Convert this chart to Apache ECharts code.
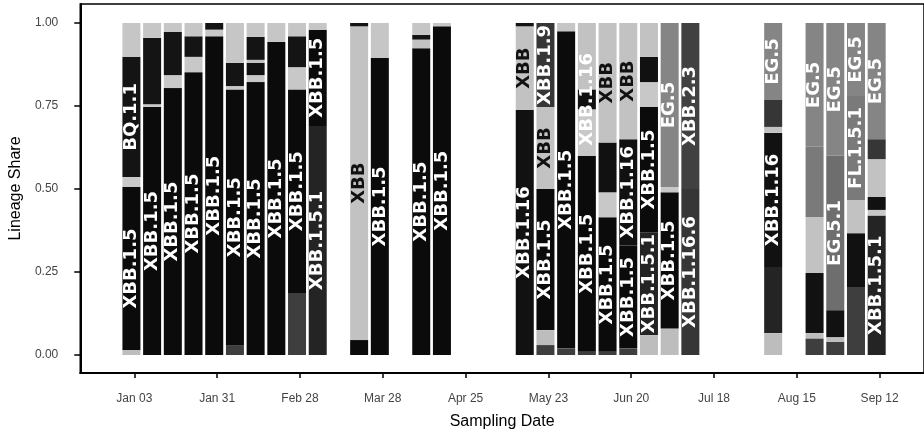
<!DOCTYPE html>
<html>
<head>
<meta charset="utf-8">
<script src="https://cdn.jsdelivr.net/npm/echarts@6/dist/echarts.min.js"></script>
<style>
  html, body { margin: 0; padding: 0; background: #fff; }
  #chart { width: 924px; height: 438px; }
</style>
</head>
<body>
<div id="chart"></div>
<script>
// Weekly sampling dates (Mondays, 2023)
const sampleDates = [
  '2023-01-02', '2023-01-09', '2023-01-16', '2023-01-23', '2023-01-30',
  '2023-02-06', '2023-02-13', '2023-02-20', '2023-02-27', '2023-03-06',
  '2023-03-20', '2023-03-27', '2023-04-10', '2023-04-17',
  '2023-05-15', '2023-05-22', '2023-05-29', '2023-06-05', '2023-06-12',
  '2023-06-19', '2023-06-26', '2023-07-03', '2023-07-10',
  '2023-08-07', '2023-08-21', '2023-08-28', '2023-09-04', '2023-09-11'
];

// Tick dates on the x axis
const tickDates = [
  '2023-01-03', '2023-01-31', '2023-02-28', '2023-03-28', '2023-04-25',
  '2023-05-23', '2023-06-20', '2023-07-18', '2023-08-15', '2023-09-12'
];
const yTicks = [0, 0.25, 0.5, 0.75, 1];

// Lineage shares per sampling date, listed in stacking order (bottom to top)
const otherA    = [0, 0, 0, 0, 0, .03, 0, 0, .187, 0, 0, 0, 0, 0, 0, .03, .02, .01, .01, .02, 0, 0, 0, 0, .05, .04, .205, 0];
const otherB    = [.015, 0, 0, 0, 0, 0, 0, 0, 0, 0, 0, 0, 0, 0, 0, .045, 0, 0, 0, 0, .06, .08, 0, .066, .016, .014, 0, 0];
const xbb151    = [0, 0, 0, 0, 0, 0, 0, 0, 0, .69, 0, 0, 0, 0, 0, 0, 0, 0, 0, 0, .31, 0, 0, .199, 0, 0, 0, .42];
const xbb15     = [.491, .747, .804, .852, .96, .77, .822, .943, .613, .29, .045, .895, .924, .99, 0, .425, .955, .59, .405, .31, .377, .41, 0, 0, 0, 0, 0, 0];
const otherC    = [.03, .008, .039, .046, .02, .01, .021, 0, .067, 0, 0, 0, 0, 0, 0, 0, 0, .14, .075, 0, .075, .016, 0, 0, 0, 0, 0, .017];
const xbb116    = [0, 0, 0, 0, 0, 0, .037, 0, 0, 0, 0, 0, 0, 0, .738, 0, 0, .06, .15, .32, .076, 0, 0, .404, .181, .081, .162, .039];
const xbb       = [0, 0, 0, 0, 0, 0, .009, 0, 0, 0, .945, 0, .026, 0, .252, .247, 0, .20, .36, .35, .102, 0, 0, .018, .169, 0, .10, .114];
const xbb19     = [0, 0, 0, 0, 0, 0, 0, 0, 0, 0, 0, 0, 0, 0, 0, .253, 0, 0, 0, 0, 0, 0, 0, .081, 0, 0, 0, .06];
const bq11      = [.362, .20, .13, .062, .02, .07, .069, 0, .093, 0, .01, 0, .014, 0, .01, 0, 0, 0, 0, 0, 0, 0, 0, 0, 0, 0, 0, 0];
const xbb1166   = [0, 0, 0, 0, 0, 0, 0, 0, 0, 0, 0, 0, 0, 0, 0, 0, 0, 0, 0, 0, 0, 0, .5, 0, 0, 0, 0, 0];
const xbb23     = [0, 0, 0, 0, 0, 0, 0, 0, 0, 0, 0, 0, 0, 0, 0, 0, 0, 0, 0, 0, 0, 0, .5, 0, 0, 0, 0, 0];
const eg51      = [0, 0, 0, 0, 0, 0, 0, 0, 0, 0, 0, 0, 0, 0, 0, 0, 0, 0, 0, 0, 0, 0, 0, 0, 0, .465, 0, 0];
const fl151     = [0, 0, 0, 0, 0, 0, 0, 0, 0, 0, 0, 0, 0, 0, 0, 0, 0, 0, 0, 0, 0, 0, 0, 0, .211, 0, .313, 0];
const otherD    = [.102, .045, .027, .04, 0, .12, .042, .057, .04, .02, 0, .105, .036, .01, 0, 0, .025, 0, 0, 0, 0, 0, 0, 0, 0, 0, 0, 0];
const eg5       = [0, 0, 0, 0, 0, 0, 0, 0, 0, 0, 0, 0, 0, 0, 0, 0, 0, 0, 0, 0, 0, .494, 0, .232, .373, .40, .22, .35];

const lineages = [
  { name: 'Other (a)',  values: otherA },
  { name: 'Other (b)',  values: otherB },
  { name: 'XBB.1.5.1',  values: xbb151 },
  { name: 'XBB.1.5',    values: xbb15 },
  { name: 'Other (c)',  values: otherC },
  { name: 'XBB.1.16',   values: xbb116 },
  { name: 'XBB',        values: xbb },
  { name: 'XBB.1.9',    values: xbb19 },
  { name: 'BQ.1.1',     values: bq11 },
  { name: 'XBB.1.16.6', values: xbb1166 },
  { name: 'XBB.2.3',    values: xbb23 },
  { name: 'EG.5.1',     values: eg51 },
  { name: 'FL.1.5.1',   values: fl151 },
  { name: 'Other (d)',  values: otherD },
  { name: 'EG.5',       values: eg5 }
];

// Small segments that still carry a name label
const extraLabels = [['2023-06-05', 'XBB.1.16']];

// Greyscale fill for each lineage, and the matching label colour
const fills = {
  'Other (a)': '#3e3e3e', 'Other (b)': '#bdbdbd', 'XBB.1.5.1': '#242424',
  'XBB.1.5': '#0b0b0b', 'Other (c)': '#c8c8c8', 'XBB.1.16': '#111111',
  'XBB': '#c2c2c2', 'XBB.1.9': '#363636', 'BQ.1.1': '#141414',
  'XBB.1.16.6': '#363636', 'XBB.2.3': '#414141', 'EG.5.1': '#6e6e6e',
  'FL.1.5.1': '#7a7a7a', 'Other (d)': '#c6c6c6', 'EG.5': '#858585'
};
const lightFills = new Set(['Other (b)', 'Other (c)', 'XBB', 'Other (d)']);

const DAY = 86400000;
const origin = Date.UTC(2023, 0, 3);
function dayOffset(s) {
  const [y, m, d] = s.split('-').map(Number);
  return (Date.UTC(y, m - 1, d) - origin) / DAY;
}
const MONTHS = ['Jan', 'Feb', 'Mar', 'Apr', 'May', 'Jun', 'Jul', 'Aug', 'Sep', 'Oct', 'Nov', 'Dec'];
function dateLabel(v) {
  const dt = new Date(origin + Math.round(v) * DAY);
  return MONTHS[dt.getUTCMonth()] + ' ' + String(dt.getUTCDate()).padStart(2, '0');
}

const xs = sampleDates.map(dayOffset);
const LABEL_MIN = 0.215;

// Each datum is [share, day]; the share column comes first so it is the stacked one.
const series = lineages.map(l => {
  const minor = l.name.startsWith('Other');
  return {
    name: l.name,
    type: 'bar',
    stack: 'share',
    barWidth: 18,
    encode: { x: 1, y: 0 },
    itemStyle: { color: fills[l.name] },
    label: {
      show: false,
      position: 'inside',
      rotate: 90,
      formatter: l.name,
      fontFamily: 'DejaVu Sans',
      fontWeight: 'bold',
      fontSize: 18,
      color: lightFills.has(l.name) ? '#111' : '#fff'
    },
    data: l.values.map((v, i) => {
      const forced = extraLabels.some(e => e[0] === sampleDates[i] && e[1] === l.name);
      return {
        value: [v, xs[i]],
        label: { show: !minor && (v >= LABEL_MIN || (forced && v > 0)) }
      };
    })
  };
});

const chart = echarts.init(document.getElementById('chart'), null, { renderer: 'canvas' });
chart.setOption({
  animation: false,
  backgroundColor: '#fff',
  grid: {
    left: 77, top: 4, width: 858, bottom: 65,
    show: true, borderColor: '#000', borderWidth: 1.5, backgroundColor: '#fff'
  },
  xAxis: {
    type: 'value',
    min: -18.3,
    max: 267,
    name: 'Sampling Date',
    nameLocation: 'middle',
    nameGap: 41,
    nameTextStyle: { fontFamily: 'Liberation Sans', fontSize: 16, color: '#000' },
    axisLine: { show: true, onZero: false, lineStyle: { color: '#000', width: 2 } },
    axisTick: { show: true, length: 5, lineStyle: { color: '#000', width: 1.5 },
                customValues: tickDates.map(dayOffset) },
    axisLabel: { customValues: tickDates.map(dayOffset), formatter: dateLabel, margin: 20,
                 fontFamily: 'Liberation Sans', fontSize: 12, color: '#444' },
    splitLine: { show: false }
  },
  yAxis: {
    type: 'value',
    min: -0.0542,
    max: 1.0572,
    name: 'Lineage Share',
    nameLocation: 'middle',
    nameGap: 54,
    nameRotate: 90,
    nameTextStyle: { fontFamily: 'Liberation Sans', fontSize: 16, color: '#000' },
    axisLine: { show: true, onZero: false, lineStyle: { color: '#000', width: 2 } },
    axisTick: { show: true, length: 6, lineStyle: { color: '#000', width: 1.5 }, customValues: yTicks },
    axisLabel: { customValues: yTicks, formatter: v => v.toFixed(2), margin: 22,
                 fontFamily: 'Liberation Sans', fontSize: 12, color: '#444' },
    splitLine: { show: false }
  },
  series: series
});
</script>
</body>
</html>
